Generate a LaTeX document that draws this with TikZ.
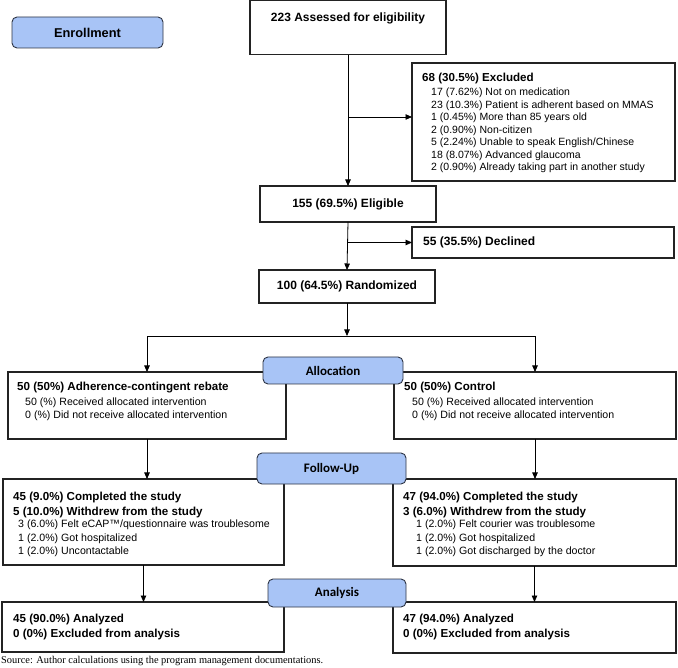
\documentclass[tikz,border=0pt]{standalone}
\usepackage{fontspec}
\setmainfont{Liberation Sans}
\newfontfamily\headfont{Carlito}
\newfontfamily\srcfont{Liberation Serif}
\usetikzlibrary{arrows.meta}
\definecolor{hdrfill}{RGB}{168,196,246}
\definecolor{hdrline}{RGB}{45,52,68}
\definecolor{boxline}{RGB}{35,35,35}
\tikzset{
  boxnode/.style={draw=boxline, line width=1.1pt, anchor=north west, inner sep=0pt, outer sep=0pt},
  hdr/.style={draw=hdrline, fill=hdrfill, rounded corners=5pt, line width=0.9pt, anchor=north west,
    inner sep=0pt, outer sep=0pt, font=\headfont\bfseries\fontsize{13}{15}\selectfont},
  arr/.style={draw=black, line width=0.8pt, -{Triangle[length=6.5pt,width=5.5pt]}},
  ttl/.style={anchor=west, inner sep=0pt, font=\bfseries\fontsize{11.6}{14}\selectfont},
  ttls/.style={anchor=north west, inner sep=0pt, align=left, font=\bfseries\fontsize{11.6}{15}\selectfont},
  big/.style={inner sep=0pt, font=\bfseries\fontsize{12}{14}\selectfont},
  items/.style={anchor=north west, inner sep=0pt, align=left, font=\fontsize{10.5}{12.5}\selectfont},
  itemsb/.style={anchor=north west, inner sep=0pt, align=left, font=\fontsize{10.6}{13.5}\selectfont},
}
\begin{document}
\begin{tikzpicture}[x=1pt,y=-1pt]
\useasboundingbox (0,0) rectangle (678,668);

% Enrollment header
\node[hdr, minimum width=151pt, minimum height=31pt, font=\bfseries\fontsize{12.8}{15}\selectfont] (enroll) at (12,17) {Enrollment};

% Assessed
\node[boxnode, minimum width=196pt, minimum height=54pt] (assess) at (250,0.6) {};
\node[big] (assessT) at (348,18) {223 Assessed for eligibility};

% Excluded
\node[boxnode, minimum width=263pt, minimum height=118pt] (excl) at (412,63) {};
\node[ttl] (exclT) at (422,79) {68 (30.5\%) Excluded};
\node[items] (exclI) at (431,88) {17 (7.62\%) Not on medication\\
23 (10.3\%) Patient is adherent based on MMAS\\
1 (0.45\%) More than 85 years old\\
2 (0.90\%) Non-citizen\\
5 (2.24\%) Unable to speak English/Chinese\\
18 (8.07\%) Advanced glaucoma\\
2 (0.90\%) Already taking part in another study};

% Eligible
\node[boxnode, minimum width=176pt, minimum height=36pt] (elig) at (260,186) {};
\node[big] (eligT) at (348,204) {155 (69.5\%) Eligible};

% Declined
\node[boxnode, minimum width=262pt, minimum height=31pt] (decl) at (412,227) {};
\node[ttl, font=\bfseries\fontsize{12}{14}\selectfont] (declT) at (423,242.5) {55 (35.5\%) Declined};

% Randomized
\node[boxnode, minimum width=176pt, minimum height=33pt] (rand) at (259,270) {};
\node[big] (randT) at (347,286.5) {100 (64.5\%) Randomized};

% Allocation boxes
\node[boxnode, minimum width=278pt, minimum height=67pt] (allocL) at (8,372) {};
\node[ttl] (allocLT) at (17,388) {50 (50\%) Adherence-contingent rebate};
\node[itemsb] (allocLI) at (25,397.6) {50 (\%) Received allocated intervention\\
0 (\%) Did not receive allocated intervention};

\node[boxnode, minimum width=282pt, minimum height=67pt] (allocR) at (394,372) {};
\node[ttl] (allocRT) at (404,388) {50 (50\%) Control};
\node[itemsb] (allocRI) at (412,397.6) {50 (\%) Received allocated intervention\\
0 (\%) Did not receive allocated intervention};

% Follow-up boxes
\node[boxnode, minimum width=281pt, minimum height=86pt] (fuL) at (3,479) {};
\node[ttls] (fuLT) at (13,491.4) {45 (9.0\%) Completed the study\\
5 (10.0\%) Withdrew from the study};
\node[itemsb] (fuLI) at (18,519.8) {3 (6.0\%) Felt eCAP™/questionnaire was troublesome\\
1 (2.0\%) Got hospitalized\\
1 (2.0\%) Uncontactable};

\node[boxnode, minimum width=283pt, minimum height=87pt] (fuR) at (393,479) {};
\node[ttls] (fuRT) at (403,491.4) {47 (94.0\%) Completed the study\\
3 (6.0\%) Withdrew from the study};
\node[itemsb] (fuRI) at (416,519.8) {1 (2.0\%) Felt courier was troublesome\\
1 (2.0\%) Got hospitalized\\
1 (2.0\%) Got discharged by the doctor};

% Analysis boxes
\node[boxnode, minimum width=282pt, minimum height=50pt] (anL) at (2,602) {};
\node[ttls] (anLT) at (13,613.4) {45 (90.0\%) Analyzed\\
0 (0\%) Excluded from analysis};

\node[boxnode, minimum width=283pt, minimum height=51pt] (anR) at (393,602) {};
\node[ttls] (anRT) at (403,613.4) {47 (94.0\%) Analyzed\\
0 (0\%) Excluded from analysis};

% Connectors
\coordinate (j1) at (348,117);
\coordinate (sp) at (347,336);
\draw[arr] (assess.south) -- (elig.north);
\draw[arr] (j1) -- (j1 -| excl.west);
\draw[arr] (elig.south |- decl.west) -- (decl.west);
\draw[arr] (elig.south) -- (rand.north);
\draw[arr] (rand.south) -- (sp);
\draw[arr] (sp) -| (allocL.north);
\draw[arr] (sp) -| (allocR.north);
\draw[arr] (allocL.south) -- (allocL.south |- fuL.north);
\draw[arr] (allocR.south) -- (allocR.south |- fuR.north);
\draw[arr] (fuL.south) -- (fuL.south |- anL.north);
\draw[arr] (fuR.south) -- (fuR.south |- anR.north);

% Phase headers (on top)
\node[hdr, minimum width=140pt, minimum height=27pt] (allocH) at (263,357) {Allocation};
\node[hdr, minimum width=149pt, minimum height=31pt] (fuH) at (257,453) {Follow-Up};
\node[hdr, minimum width=138pt, minimum height=28pt] (anH) at (268,579) {Analysis};

% Source
\node[anchor=west, inner sep=0pt, font=\srcfont\fontsize{10.4}{12}\selectfont] (src) at (1,661) {Source: Author calculations using the program management documentations.};
\end{tikzpicture}
\end{document}
